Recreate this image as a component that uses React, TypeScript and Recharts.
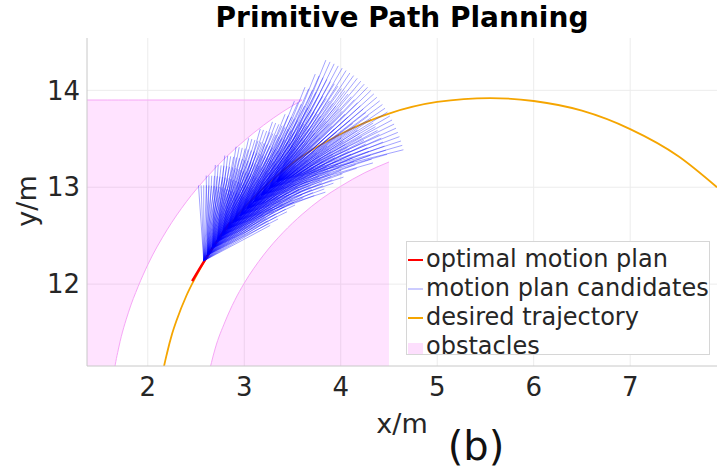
import {
  Area,
  CartesianGrid,
  ComposedChart,
  Line,
  XAxis,
  YAxis,
} from 'recharts'

const FONT = '"DejaVu Sans", sans-serif'
const TEXT = '#262626'

const X_TICKS = [2, 3, 4, 5, 6, 7]
const Y_TICKS = [12, 13, 14]

// desired trajectory (orange arc)
const TRAJ_X = [2.14, 2.16, 2.2, 2.25, 2.3, 2.4, 2.5, 2.6, 2.8, 3.0, 3.25, 3.5, 4.0, 4.5, 5.0, 5.55, 6.0, 6.5, 7.0, 7.5, 7.9]
const TRAJ_Y = [10.99, 11.11, 11.29, 11.48, 11.63, 11.88, 12.08, 12.26, 12.55, 12.79, 13.04, 13.25, 13.55, 13.76, 13.88, 13.92, 13.89, 13.79, 13.6, 13.32, 13.0]

// optimal motion plan (red)
const PLAN_X = [2.46, 2.55, 2.65, 2.75, 2.85]
const PLAN_Y = [12.03, 12.18, 12.34, 12.49, 12.63]

// left obstacle: outer road edge up to the flat top at 13.9
const OUTER_X = [1.37, 1.58, 1.62, 1.65, 1.7, 1.8, 1.9, 2.0, 2.2, 2.4, 2.6, 2.8, 3.0, 3.2, 3.4, 3.6]
const OUTER_Y = [10.4, 10.4, 10.86, 11.09, 11.35, 11.71, 11.975, 12.2, 12.56, 12.85, 13.09, 13.3, 13.48, 13.64, 13.78, 13.9]
const OBSTACLE_TOP = 13.9

// right obstacle: everything under the inner road edge, cut at x = 4.5
const INNER_X = [2.58, 2.62, 2.66, 2.7, 2.8, 2.9, 3.0, 3.2, 3.4, 3.6, 3.8, 4.0, 4.25, 4.5]
const INNER_Y = [10.71, 11.01, 11.19, 11.34, 11.61, 11.83, 12.01, 12.3, 12.53, 12.72, 12.88, 13.01, 13.15, 13.26]
const GROUND = 10.4

// candidate primitive fans: origin, ray length, heading range (deg)
const FAN_ORIGIN_X = [2.58, 2.62, 2.67, 2.72, 2.77, 2.83, 2.89, 2.96, 3.03, 3.1, 3.18, 3.26, 3.34]
const FAN_ORIGIN_Y = [12.24, 12.3, 12.37, 12.44, 12.5, 12.57, 12.64, 12.71, 12.78, 12.85, 12.92, 12.99, 13.06]
const FAN_REACH = [0.78, 0.82, 0.86, 0.89, 0.93, 0.96, 1.0, 1.02, 1.05, 1.12, 1.2, 1.27, 1.35]
const FAN_STEEPEST = [94, 91, 88, 85, 81, 77, 74, 71, 68, 68, 68, 68, 68]
const FAN_SHALLOWEST = [28, 27, 26, 25, 24, 21, 18, 18, 18, 17, 16, 15, 14]
const FAN_SPACING = 2

const trajectory = TRAJ_X.map((x, i) => ({ x, y: TRAJ_Y[i] }))
const plan = PLAN_X.map((x, i) => ({ x, y: PLAN_Y[i] }))
const leftObstacle = OUTER_X.map((x, i) => ({ x, band: [OUTER_Y[i], OBSTACLE_TOP] }))
const rightObstacle = INNER_X.map((x, i) => ({ x, band: [GROUND, INNER_Y[i]] }))

// one series per fan; a null y after each ray breaks the path
const fans: { x: number; y: number | null }[][] = FAN_ORIGIN_X.map((ox, k) => {
  const oy = FAN_ORIGIN_Y[k]
  const r = FAN_REACH[k]
  const pts: { x: number; y: number | null }[] = []
  for (let h = FAN_STEEPEST[k]; h >= FAN_SHALLOWEST[k]; h -= FAN_SPACING) {
    const a = (h * Math.PI) / 180
    const ex = ox + r * Math.cos(a)
    pts.push({ x: ox, y: oy }, { x: ex, y: oy + r * Math.sin(a) }, { x: ex, y: null })
  }
  return pts
})

const PINK = '#ff00ff'
const PINK_EDGE = '#f6a6f6'
const BLUE = '#0000ff'
const ORANGE = '#f5a500'
const RED = '#ff0000'

const LEGEND_ITEMS = [
  { label: 'optimal motion plan', kind: 'line', color: RED },
  { label: 'motion plan candidates', kind: 'line', color: '#ccccff' },
  { label: 'desired trajectory', kind: 'line', color: ORANGE },
  { label: 'obstacles', kind: 'patch', color: '#fddffd' },
]

function LegendBox() {
  return (
    <div
      style={{
        position: 'absolute',
        left: 406,
        top: 241,
        width: 304,
        height: 114,
        border: '1px solid #d6d6d6',
        background: '#fff',
        fontFamily: FONT,
        fontSize: 24,
        color: TEXT,
        boxSizing: 'border-box',
      }}
    >
      {LEGEND_ITEMS.map((it, i) => (
        <div
          key={it.label}
          style={{
            position: 'absolute',
            left: 1,
            top: 3 + i * 29,
            height: 28,
            display: 'flex',
            alignItems: 'center',
            whiteSpace: 'nowrap',
            lineHeight: '28px',
          }}
        >
          {it.kind === 'line' ? (
            <span style={{ width: 15, height: 2, background: it.color, marginRight: 3, marginTop: 2 }} />
          ) : (
            <span style={{ width: 15, height: 11, background: it.color, marginRight: 3, marginTop: 4 }} />
          )}
          {it.label}
        </div>
      ))}
    </div>
  )
}

export default function App() {
  return (
    <div style={{ position: 'absolute', left: 0, top: 0, width: 717, height: 476, background: '#fff' }}>
      <ComposedChart width={717} height={476} margin={{ top: 38, right: 0, bottom: 80, left: 27 }}>
        <CartesianGrid stroke="#ececec" horizontalValues={Y_TICKS} verticalValues={X_TICKS} />
        <XAxis
          type="number"
          dataKey="x"
          domain={[1.37, 7.9]}
          ticks={X_TICKS}
          allowDataOverflow
          height={30}
          tickSize={0}
          tickMargin={12}
          axisLine={{ stroke: '#c8c8c8' }}
          tick={{ fill: TEXT, fontSize: 26, fontFamily: FONT }}
        />
        <YAxis
          type="number"
          domain={[11.155, 14.54]}
          ticks={Y_TICKS}
          allowDataOverflow
          width={60}
          tickSize={0}
          tickMargin={7}
          axisLine={{ stroke: '#c8c8c8' }}
          tick={{ fill: TEXT, fontSize: 26, fontFamily: FONT }}
        />
        <Area
          data={leftObstacle}
          dataKey="band"
          type="monotone"
          fill={PINK}
          fillOpacity={0.11}
          stroke={PINK_EDGE}
          strokeWidth={1}
          isAnimationActive={false}
        />
        <Area
          data={rightObstacle}
          dataKey="band"
          type="monotone"
          fill={PINK}
          fillOpacity={0.11}
          stroke={PINK_EDGE}
          strokeWidth={1}
          isAnimationActive={false}
        />
        <Line
          data={trajectory}
          dataKey="y"
          type="monotone"
          stroke={ORANGE}
          strokeWidth={1.8}
          dot={false}
          activeDot={false}
          isAnimationActive={false}
        />
        <Line
          data={plan}
          dataKey="y"
          type="monotone"
          stroke={RED}
          strokeWidth={2.5}
          dot={false}
          activeDot={false}
          isAnimationActive={false}
        />
        {fans.map((pts, i) => (
          <Line
            key={`fan-${i}`}
            data={pts}
            dataKey="y"
            type="linear"
            connectNulls={false}
            stroke={BLUE}
            strokeOpacity={0.36}
            strokeWidth={1}
            dot={false}
            activeDot={false}
            isAnimationActive={false}
          />
        ))}
      </ComposedChart>

      <div
        style={{
          position: 'absolute',
          left: 402,
          top: 1,
          transform: 'translateX(-50%)',
          fontFamily: FONT,
          fontWeight: 'bold',
          fontSize: 28,
          color: '#000',
          whiteSpace: 'nowrap',
        }}
      >
        Primitive Path Planning
      </div>
      <div
        style={{
          position: 'absolute',
          left: 402,
          top: 423,
          transform: 'translate(-50%, -50%)',
          fontFamily: FONT,
          fontSize: 27,
          color: TEXT,
          whiteSpace: 'nowrap',
        }}
      >
        x/m
      </div>
      <div
        style={{
          position: 'absolute',
          left: 26,
          top: 201,
          transform: 'translate(-50%, -50%) rotate(-90deg)',
          fontFamily: FONT,
          fontSize: 27,
          color: TEXT,
          whiteSpace: 'nowrap',
        }}
      >
        y/m
      </div>
      <div
        style={{
          position: 'absolute',
          left: 476,
          top: 446,
          transform: 'translate(-50%, -50%)',
          fontFamily: FONT,
          fontSize: 40,
          color: '#111',
          whiteSpace: 'nowrap',
        }}
      >
        (b)
      </div>
      <LegendBox />
    </div>
  )
}
